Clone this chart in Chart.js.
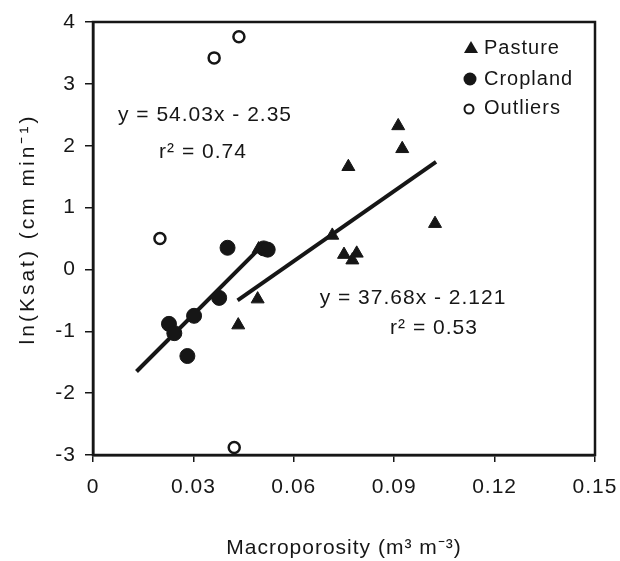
<!DOCTYPE html>
<html>
<head>
<meta charset="utf-8">
<script src="https://cdn.jsdelivr.net/npm/chart.js@4"></script>
<style>
  html, body { margin: 0; padding: 0; background: #fff; }
  #wrap { width: 620px; height: 561px; }
</style>
</head>
<body>
<div id="wrap"><canvas id="myChart" width="620" height="561"></canvas></div>
<script>
// values
const pastureX = [0.0434, 0.0492, 0.0495, 0.0715, 0.0750, 0.0788, 0.0775, 0.0912, 0.0924, 0.0763, 0.1022];
const pastureY = [-0.90, -0.48, 0.33, 0.55, 0.24, 0.26, 0.15, 2.32, 1.95, 1.66, 0.74];

const croplandX = [0.0402, 0.0510, 0.0522, 0.0377, 0.0302, 0.0227, 0.0243, 0.0282];
const croplandY = [0.35, 0.34, 0.32, -0.46, -0.75, -0.88, -1.03, -1.40];

const outlierX = [0.0436, 0.0362, 0.0200, 0.0422];
const outlierY = [3.76, 3.42, 0.50, -2.88];

// fitted lines, end points as drawn
const cropFitX = [0.013, 0.049];
const cropFitY = [-1.65, 0.30];
const pastFitX = [0.0432, 0.1025];
const pastFitY = [-0.50, 1.74];

const xTicks = [0, 0.03, 0.06, 0.09, 0.12, 0.15];
const yTicks = [-3, -2, -1, 0, 1, 2, 3, 4];

const seriesNames = ['Pasture', 'Cropland', 'Outliers'];
const equations = ['y = 54.03x - 2.35', 'r² = 0.74', 'y = 37.68x - 2.121', 'r² = 0.53'];
const yTitle = 'ln(Ksat) (cm min⁻¹)';

const ink = '#161616';
const fontFamily = '"Liberation Sans", Arial, sans-serif';

function pts(xs, ys) {
  return xs.map((x, i) => ({ x: x, y: ys[i] }));
}

const spacing = {
  id: 'spacing',
  beforeUpdate(chart) { chart.ctx.letterSpacing = '1px'; },
  beforeDraw(chart) { chart.ctx.letterSpacing = '1px'; }
};

const frame = {
  id: 'frame',
  afterDatasetsDraw(chart) {
    const { ctx, chartArea: a } = chart;
    ctx.save();
    ctx.strokeStyle = ink;
    ctx.lineWidth = 2.5;
    ctx.strokeRect(a.left, a.top, a.right - a.left, a.bottom - a.top);
    ctx.restore();
  }
};

const notes = {
  id: 'notes',
  afterDraw(chart) {
    const ctx = chart.ctx;
    ctx.save();
    ctx.letterSpacing = '1px';
    ctx.fillStyle = ink;
    ctx.font = '21px ' + fontFamily;
    ctx.textAlign = 'center';
    ctx.textBaseline = 'middle';
    const at = [[205, 115], [203, 152], [413, 298], [434, 328]];
    equations.forEach((t, i) => ctx.fillText(t, at[i][0], at[i][1]));

    // y axis title, spaced wider than the rest
    ctx.save();
    ctx.letterSpacing = '3px';
    ctx.translate(28, 229);
    ctx.rotate(-Math.PI / 2);
    ctx.fillText(yTitle, 0, 0);
    ctx.restore();

    // legend
    ctx.textAlign = 'left';
    ctx.font = '20px ' + fontFamily;
    const lx = 471, ly = [48, 79, 108];
    seriesNames.forEach((name, i) => {
      const y = ly[i];
      ctx.beginPath();
      if (i === 0) {
        ctx.moveTo(lx, y - 7);
        ctx.lineTo(lx + 7, y + 5);
        ctx.lineTo(lx - 7, y + 5);
        ctx.closePath();
        ctx.fill();
      } else if (i === 1) {
        ctx.arc(lx - 1, y, 6.5, 0, Math.PI * 2);
        ctx.fill();
      } else {
        ctx.arc(lx - 2, y + 1, 4.5, 0, Math.PI * 2);
        ctx.lineWidth = 2;
        ctx.strokeStyle = ink;
        ctx.stroke();
      }
      ctx.fillText(name, lx + 13, y);
    });
    ctx.restore();
  }
};

const ctx = document.getElementById('myChart');
new Chart(ctx, {
  type: 'scatter',
  data: {
    datasets: [
      {
        label: 'Cropland fit',
        type: 'line',
        data: pts(cropFitX, cropFitY),
        borderColor: ink,
        borderWidth: 4,
        pointRadius: 0,
        fill: false
      },
      {
        label: 'Pasture fit',
        type: 'line',
        data: pts(pastFitX, pastFitY),
        borderColor: ink,
        borderWidth: 4,
        pointRadius: 0,
        fill: false
      },
      {
        label: seriesNames[0],
        data: pts(pastureX, pastureY),
        pointStyle: 'triangle',
        pointRadius: 7.5,
        backgroundColor: ink,
        borderColor: ink,
        borderWidth: 1
      },
      {
        label: seriesNames[1],
        data: pts(croplandX, croplandY),
        pointStyle: 'circle',
        pointRadius: 7.5,
        backgroundColor: ink,
        borderColor: ink,
        borderWidth: 1
      },
      {
        label: seriesNames[2],
        data: pts(outlierX, outlierY),
        pointStyle: 'circle',
        pointRadius: 5.5,
        backgroundColor: '#fff',
        borderColor: ink,
        borderWidth: 2.5
      }
    ]
  },
  options: {
    responsive: false,
    animation: false,
    events: [],
    layout: { padding: { top: 22, right: 25, left: 0, bottom: 0 } },
    plugins: {
      legend: { display: false },
      tooltip: { enabled: false }
    },
    scales: {
      x: {
        type: 'linear',
        min: 0,
        max: 0.15,
        afterBuildTicks: (s) => { s.ticks = xTicks.map(v => ({ value: v })); },
        afterFit: (s) => {
          s.height = 106;
          s.paddingLeft = 0;
          s.paddingRight = 0;
        },
        ticks: {
          color: ink,
          padding: 13,
          font: { size: 21, family: fontFamily },
          callback: (v) => v === 0 ? '0' : v.toFixed(2)
        },
        grid: {
          drawOnChartArea: false,
          drawTicks: true,
          tickLength: 7,
          tickColor: ink,
          lineWidth: 1.5
        },
        border: { display: true, color: ink, width: 2.5 },
        title: {
          display: true,
          text: 'Macroporosity (m³ m⁻³)',
          color: ink,
          font: { size: 21, family: fontFamily },
          padding: { top: 0, bottom: 0 }
        }
      },
      y: {
        type: 'linear',
        min: -3,
        max: 4,
        afterBuildTicks: (s) => { s.ticks = yTicks.map(v => ({ value: v })); },
        afterFit: (s) => {
          s.width = 93;
          s.paddingTop = 0;
          s.paddingBottom = 0;
        },
        ticks: {
          color: ink,
          padding: 9,
          font: { size: 21, family: fontFamily }
        },
        grid: {
          drawOnChartArea: false,
          drawTicks: true,
          tickLength: 8,
          tickColor: ink,
          lineWidth: 1.5
        },
        border: { display: true, color: ink, width: 2.5 },
        title: { display: false }
      }
    }
  },
  plugins: [spacing, frame, notes]
});
</script>
</body>
</html>
